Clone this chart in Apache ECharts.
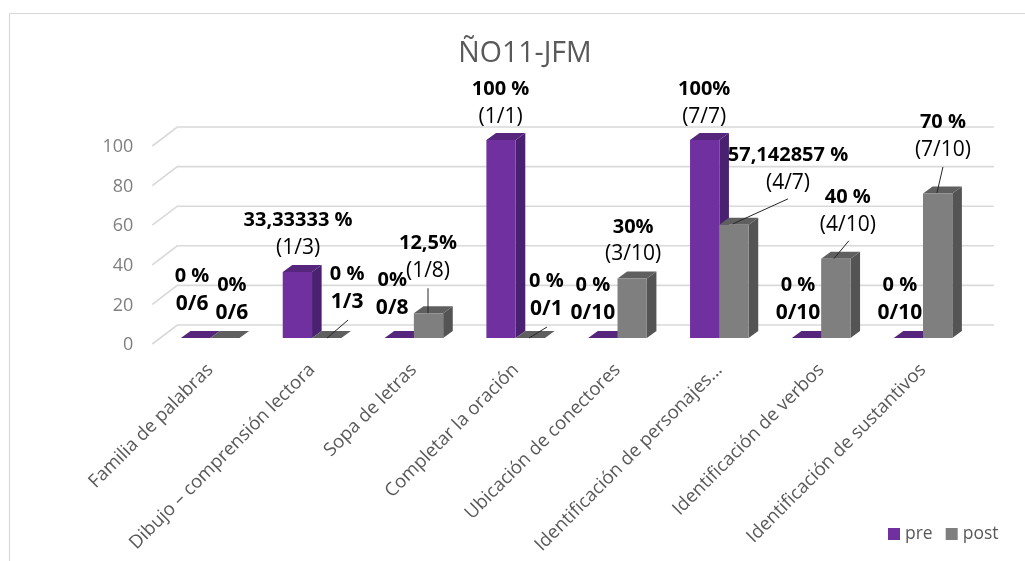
<!DOCTYPE html>
<html>
<head>
<meta charset="utf-8">
<style>html,body{margin:0;padding:0;background:#fff}#c{width:1025px;height:561px}</style>
<script src="https://cdn.jsdelivr.net/npm/echarts@6/dist/echarts.min.js"></script>
</head>
<body>
<div id="c"></div>
<script>
const categories = ['Familia de palabras','Dibujo – comprensión lectora','Sopa de letras','Completar la oración','Ubicación de conectores','Identificación de personajes...','Identificación de verbos','Identificación de sustantivos'];
const preValues = [0, 33.33, 0, 100, 0, 100, 0, 0];
const postValues = [0, 0, 12.5, 0, 30, 57.14, 40, 73];
const preTop = ['0 %','33,33333 %','0%','100 %','0 %','100%','0 %','0 %'];
const preBottom = ['0/6','(1/3)','0/8','(1/1)','0/10','(7/7)','0/10','0/10'];
const postTop = ['0%','0 %','12,5%','0 %','30%','57,142857 %','40 %','70 %'];
const postBottom = ['0/6','1/3','(1/8)','0/1','(3/10)','(4/7)','(4/10)','(7/10)'];
const yTicks = [0, 20, 40, 60, 80, 100];

// label block offsets from the top of each bar, in pixels
const preOffsets = [[-3.5,-47.5],[0.7,-37.5],[-7,-43.5],[-0.5,-37],[-10,-38.5],[-0.5,-37],[-8.5,-38.5],[-8.5,-38.5]];
const postOffsets = [[7,-38.5],[20.5,-50],[-0.5,-55.75],[16,-43],[1,-38],[54,-56],[12,-48],[5.3,-57.5]];
// leader lines from the label to the bar top, in pixels from the bar top
const postLeaders = [null,[21.4,-18,0.4,0],[-0.5,-25,-0.5,0],[16.7,-11,-1.3,0],null,[54,-26,-1,-1],[13,-18,-2,0],[5.3,-26.5,-0.7,-0.5]];

const BAR_W = 29.3, DEPTH_X = 9.6, DEPTH_Y = 7;
const boldRe = /^\d+\/\d+$/;

function barRenderer(side, colors, tops, bottoms, offsets, leaders) {
  return function (params, api) {
    const i = api.value(0), v = api.value(1);
    const base = api.coord([i, 0]), top = api.coord([i, v]);
    const x0 = side < 0 ? base[0] - BAR_W : base[0], x1 = x0 + BAR_W;
    const yb = base[1], yt = top[1];
    const children = [];
    children.push({type:'polygon', shape:{points:[[x1,yt],[x1+DEPTH_X,yt-DEPTH_Y],[x1+DEPTH_X,yb-DEPTH_Y],[x1,yb]]}, style:{fill:colors.side}});
    children.push({type:'polygon', shape:{points:[[x0,yt],[x0+DEPTH_X,yt-DEPTH_Y],[x1+DEPTH_X,yt-DEPTH_Y],[x1,yt]]}, style:{fill:colors.top}});
    if (yb > yt) children.push({type:'rect', shape:{x:x0,y:yt,width:BAR_W,height:yb-yt}, style:{fill:colors.front}});
    const ax = (x0 + x1) / 2;
    const l = leaders && leaders[i];
    if (l) children.push({type:'line', z2:5, shape:{x1:ax+l[0],y1:yt+l[1],x2:ax+l[2],y2:yt+l[3]}, style:{stroke:'#262626',lineWidth:1}});
    const o = offsets[i];
    const second = boldRe.test(bottoms[i]) ? 'z' : 'r';
    children.push({type:'text', z2:10, style:{
      x: ax + o[0], y: yt + o[1], align:'center', verticalAlign:'middle',
      text: '{b|' + tops[i] + '}\n{' + second + '|' + bottoms[i] + '}',
      rich: {
        b:{fontFamily:'Open Sans',fontSize:20,fontWeight:'bold',color:'#1a1a1a',lineHeight:27.5,align:'center'},
        z:{fontFamily:'Open Sans',fontSize:21,fontWeight:'bold',color:'#1a1a1a',lineHeight:27.5,align:'center'},
        r:{fontFamily:'Open Sans',fontSize:21,color:'#404040',lineHeight:27.5,align:'center'}
      }
    }});
    return {type:'group', children};
  };
}

function wallRenderer(params, api) {
  const v = api.value(0);
  const y = api.coord([0, v])[1];
  const cs = params.coordSys;
  return {type:'polyline', shape:{points:[[cs.x-7,y+6],[cs.x+18,y-13],[cs.x+cs.width+20,y-13]]}, style:{stroke:'#d9d9d9',lineWidth:1.6,fill:null}};
}

const chart = echarts.init(document.getElementById('c'), null, {renderer:'canvas'});
chart.setOption({
  animation:false,
  backgroundColor:'#fff',
  textStyle:{fontFamily:'Open Sans'},
  title:{text:'ÑO11-JFM', left:520, top:34, textAlign:'center', textStyle:{fontFamily:'Open Sans',fontSize:28.5,fontWeight:'normal',color:'#595959'}},
  legend:{data:['pre','post'], left:883, top:520, itemWidth:12, itemHeight:12, itemGap:13, icon:'rect', selectedMode:false,
    textStyle:{fontFamily:'Open Sans',fontSize:17.5,color:'#595959'}},
  grid:{left:159.3, width:814.6, top:140, height:198},
  xAxis:{type:'category', data:categories, axisLine:{show:false}, axisTick:{show:false},
    axisLabel:{rotate:45, interval:0, margin:29, fontFamily:'Open Sans', fontSize:18.5, color:'#595959'}},
  yAxis:{type:'value', min:0, max:100, interval:20, axisLine:{show:false}, axisTick:{show:false}, splitLine:{show:false},
    axisLabel:{margin:26, fontFamily:'Open Sans', fontSize:18, color:'#7f7f7f', verticalAlign:'top', lineHeight:14}},
  graphic:[
    {type:'polyline', silent:true, shape:{points:[[9.5,561],[9.5,13.5],[1025,13.5]]}, style:{stroke:'#d9d9d9',lineWidth:1.2,fill:null}}
  ],
  series:[
    {type:'custom', silent:true, data:yTicks.map(v=>[v]), encode:{y:0}, renderItem:wallRenderer, clip:false, z:1},
    {type:'custom', name:'pre', itemStyle:{color:'#7030a0'}, clip:false, z:2,
      data:preValues.map((v,i)=>[i,v]), encode:{x:0,y:1},
      renderItem:barRenderer(-1,{front:'#7030a0',side:'#4a2070',top:'#55267c'},preTop,preBottom,preOffsets,null)},
    {type:'custom', name:'post', itemStyle:{color:'#7f7f7f'}, clip:false, z:3,
      data:postValues.map((v,i)=>[i,v]), encode:{x:0,y:1},
      renderItem:barRenderer(1,{front:'#7f7f7f',side:'#545454',top:'#5f5f5f'},postTop,postBottom,postOffsets,postLeaders)}
  ]
});
</script>
</body>
</html>
